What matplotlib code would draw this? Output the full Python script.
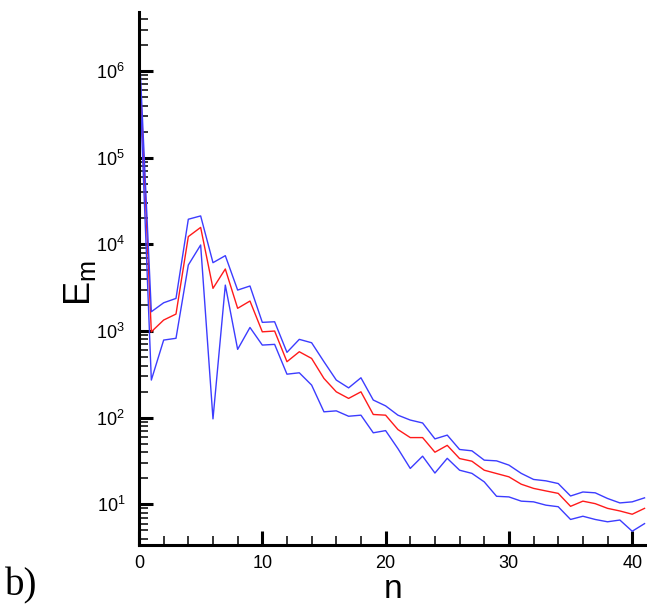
"""Energy spectrum E_m vs mode number n (panel b), log y axis."""

import matplotlib
matplotlib.use("Agg")
import matplotlib.pyplot as plt
import numpy as np
from matplotlib.ticker import LogLocator, MultipleLocator

plt.rcParams["font.family"] = ["Liberation Sans", "DejaVu Sans"]
plt.rcParams["mathtext.fontset"] = "custom"
plt.rcParams["mathtext.rm"] = "Liberation Sans"
plt.rcParams["mathtext.it"] = "Liberation Sans:italic"

# ---------------------------------------------------------------------------
# Data
# ---------------------------------------------------------------------------
n = list(range(0, 42))

e_upper = [2.1e6, 1670, 2120, 2380, 19500, 21300, 6150, 7410, 2970, 3310,
           1260, 1280, 568, 802, 733, 443, 272, 221, 289, 160,
           137, 107, 94, 87, 57, 63, 43, 41.5, 32.4, 31.8,
           28.4, 22.8, 19.4, 18.7, 17.4, 12.5, 13.9, 13.6, 11.7, 10.4,
           10.7, 11.9]

e_mean = [1.6e6, 980, 1340, 1570, 12300, 15700, 3110, 5200, 1830, 2220,
          980, 1000, 443, 577, 483, 284, 199, 167, 199, 109,
          107, 73, 59, 59, 40, 48, 33.8, 31.5, 24.8, 22.7,
          20.8, 17.1, 15.3, 14.3, 13.4, 9.5, 10.9, 10.2, 9.0, 8.4,
          7.7, 9.0]

e_lower = [1.2e6, 272, 787, 825, 5780, 9840, 97, 3390, 615, 1100,
           689, 702, 318, 330, 238, 117, 120, 104, 107, 67,
           71, 44, 26, 36, 23, 34, 24.8, 22.8, 18.2, 12.4,
           12.2, 10.9, 10.7, 9.8, 9.4, 6.7, 7.3, 6.7, 6.3, 6.6,
           4.9, 6.0]

x_ticks = [0, 10, 20, 30, 40]

# ---------------------------------------------------------------------------
# Figure
# ---------------------------------------------------------------------------
fig = plt.figure(figsize=(6.47, 6.16), dpi=100)
ax = fig.add_axes([139 / 647, 1 - 545 / 616, 1 - 139 / 647, (545 - 12) / 616])

ax.plot(n, e_mean, color="#ff1a1a", lw=1.0)
ax.plot(n, e_upper, color="#3c3cff", lw=1.0)
ax.plot(n, e_lower, color="#3c3cff", lw=1.0)

ax.set_yscale("log")
ax.set_xlim(0, 41.2)
ax.set_ylim(3.4, 4.8e6)

# only left/bottom axis lines, thick, ticks pointing inward
for side in ("top", "right"):
    ax.spines[side].set_visible(False)
for side in ("left", "bottom"):
    ax.spines[side].set_linewidth(2.2)

ax.set_xticks(x_ticks)
ax.xaxis.set_minor_locator(MultipleLocator(2))
ax.yaxis.set_major_locator(LogLocator(base=10, numticks=20))
ax.yaxis.set_minor_locator(LogLocator(base=10, subs=np.arange(2, 10), numticks=20))

ax.tick_params(which="major", direction="in", length=10, width=2.2,
               labelsize=13, pad=10)
ax.tick_params(which="minor", direction="in", length=6.5, width=1.1)
ax.tick_params(axis="x", which="major", pad=7)
ax.tick_params(top=False, right=False, which="both")

# axis titles
fig.text(80 / 647, 1 - 283 / 616, r"$\mathrm{E}_\mathrm{m}$", rotation=90,
         ha="center", va="center", fontsize=26)
fig.text(393 / 647, 1 - 590 / 616, "n", ha="center", va="center", fontsize=24)

# panel letter
fig.text(5 / 647, 1 - 595 / 616, "b)", ha="left", va="baseline", fontsize=28,
         family=["Liberation Serif", "DejaVu Serif"])

plt.savefig("out.png", dpi=100)
